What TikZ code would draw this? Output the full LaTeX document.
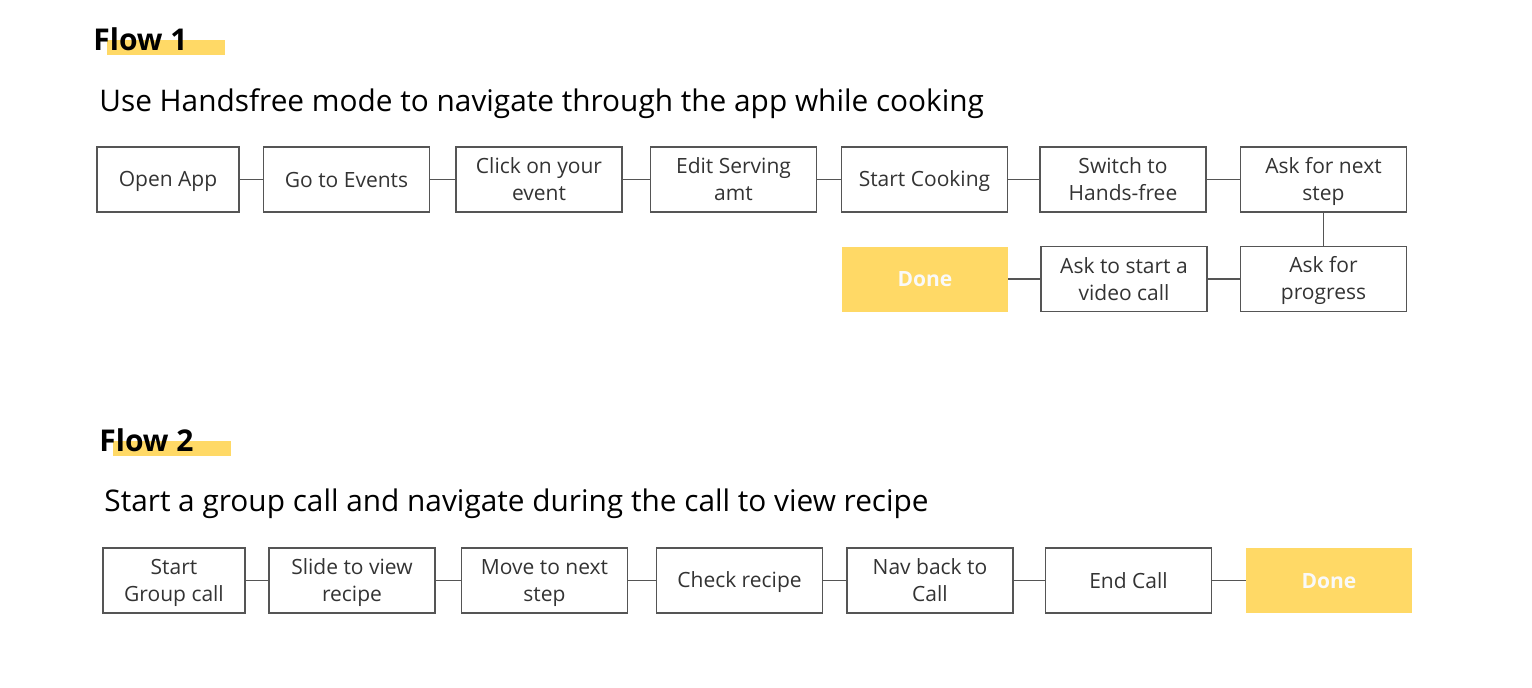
\documentclass[tikz,border=0pt]{standalone}
\usepackage{fontspec}
\setmainfont{Open Sans}
\usepackage{tikz}

\definecolor{hilite}{HTML}{FFD966}
\definecolor{boxline}{HTML}{555555}
\definecolor{boxtext}{HTML}{333333}
\newcommand{\boxstrut}{\rule{0pt}{10pt}}
\newcommand{\boxstrutd}{\rule[-2.5pt]{0pt}{2.5pt}}

\begin{document}
\begin{tikzpicture}[x=0.5pt,y=-0.5pt,
    stepbox/.style={draw=boxline,line width=0.7pt,text=boxtext,minimum width=83pt,minimum height=32.5pt,
        align=center,inner sep=0pt,font=\fontsize{10.5}{13.5}\selectfont,
        execute at begin node=\boxstrut,execute at end node=\boxstrutd},
    donebox/.style={fill=hilite,draw=none,text=white!95!gray,minimum width=83pt,minimum height=32.5pt,
        inner sep=0pt,font=\fontsize{10.5}{13.5}\selectfont\bfseries,
        execute at begin node=\boxstrut,execute at end node=\boxstrutd},
    link/.style={draw=boxline,line width=0.7pt},
    title/.style={anchor=base west,inner sep=0pt,font=\fontsize{15}{18}\selectfont\bfseries},
    task/.style={anchor=base west,inner sep=0pt,font=\fontsize{14.9}{18}\selectfont}]
        \useasboundingbox (0,0) rectangle (1532,687);

        % Flow 1
        \fill[hilite] (107,40) rectangle (225,55);
        \node[title] (flowa) at (93,50) {Flow 1};
        \node[task] (taska) at (99,111) {Use Handsfree mode to navigate through the app while cooking};

        \node[stepbox,minimum width=71pt] (open) at (168,179.5) {Open App};
        \node[stepbox] (events) at (346.5,179.5) {Go to Events};
        \node[stepbox] (click) at (539,179.5) {\boxstrut Click on your\\event};
        \node[stepbox] (edit) at (733.5,179.5) {\boxstrut Edit Serving\\amt};
        \node[stepbox] (cook) at (924.5,179.5) {Start Cooking};
        \node[stepbox] (switch) at (1123,179.5) {\boxstrut Switch to\\Hands-free};
        \node[stepbox] (next) at (1323.5,179.5) {\boxstrut Ask for next\\step};
        \node[stepbox] (progress) at (1323.5,279) {\boxstrut Ask for\\progress};
        \node[stepbox] (video) at (1124,279) {\boxstrut Ask to start a\\video call};
        \node[donebox] (donea) at (925,279) {Done};

        \draw[link] (open) -- (events);
        \draw[link] (events) -- (click);
        \draw[link] (click) -- (edit);
        \draw[link] (edit) -- (cook);
        \draw[link] (cook) -- (switch);
        \draw[link] (switch) -- (next);
        \draw[link] (next) -- (progress);
        \draw[link] (progress) -- (video);
        \draw[link] (video) -- (donea);

        % Flow 2
        \fill[hilite] (113,441) rectangle (231,456);
        \node[title] (flowb) at (99,451) {Flow 2};
        \node[task] (taskb) at (104,511) {Start a group call and navigate during the call to view recipe};

        \node[stepbox,minimum width=71pt] (group) at (174,580.5) {\boxstrut Start\\Group call};
        \node[stepbox] (slide) at (352,580.5) {\boxstrut Slide to view\\recipe};
        \node[stepbox] (move) at (544.5,580.5) {\boxstrut Move to next\\step};
        \node[stepbox] (check) at (739.5,580.5) {Check recipe};
        \node[stepbox] (navback) at (930,580.5) {\boxstrut Nav back to\\Call};
        \node[stepbox] (endcall) at (1128.5,580.5) {End Call};
        \node[donebox] (doneb) at (1329,580.5) {Done};

        \draw[link] (group) -- (slide);
        \draw[link] (slide) -- (move);
        \draw[link] (move) -- (check);
        \draw[link] (check) -- (navback);
        \draw[link] (navback) -- (endcall);
        \draw[link] (endcall) -- (doneb);
    \end{tikzpicture}
\end{document}
